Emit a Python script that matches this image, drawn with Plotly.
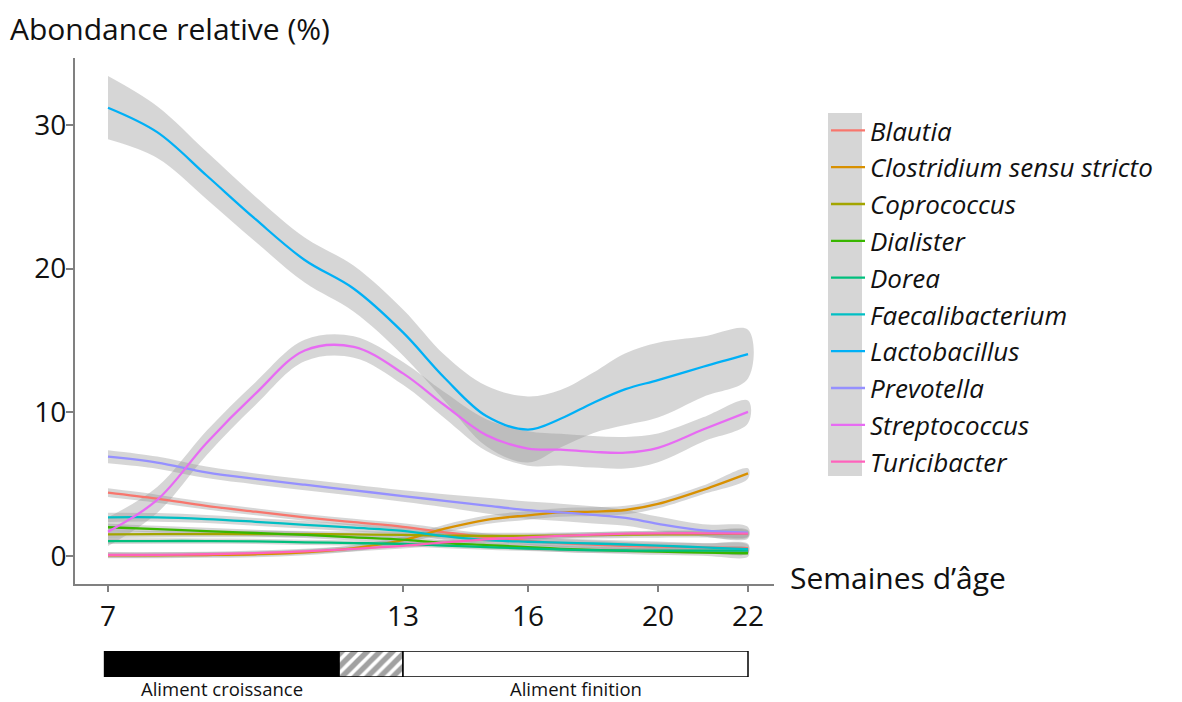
import numpy as np
import plotly.graph_objects as go

# ---------------- data ----------------
WEEKS = [7, 8, 9, 10, 11, 12, 13, 14, 15, 16, 17, 18, 19, 20, 21, 22]
TICK_WEEKS = [7, 13, 16, 20, 22]
TICK_LABELS = ["7", "13", "16", "20", "22"]

GENERA = ["Blautia", "Clostridium sensu stricto", "Coprococcus", "Dialister", "Dorea",
          "Faecalibacterium", "Lactobacillus", "Prevotella", "Streptococcus", "Turicibacter"]

BLAUTIA = [4.41, 3.99, 3.49, 3.08, 2.69, 2.35, 2.03, 1.65, 1.3, 1.05, 0.9, 0.8, 0.7, 0.65, 0.6, 0.55]
CLOSTRIDIUM = [0.05, 0.05, 0.07, 0.12, 0.25, 0.55, 1.1, 1.9, 2.52, 2.83, 3.03, 3.09, 3.2, 3.62, 4.6, 5.75]
COPROCOCCUS = [1.5, 1.52, 1.53, 1.53, 1.52, 1.5, 1.47, 1.42, 1.4, 1.4, 1.42, 1.45, 1.48, 1.5, 1.52, 1.55]
DIALISTER = [2.0, 1.87, 1.73, 1.6, 1.47, 1.3, 1.14, 0.9, 0.76, 0.62, 0.5, 0.42, 0.36, 0.3, 0.24, 0.19]
DOREA = [1.04, 1.04, 1.04, 1.02, 0.95, 0.9, 0.84, 0.72, 0.62, 0.52, 0.45, 0.4, 0.38, 0.37, 0.37, 0.37]
FAECALIBACTERIUM = [2.69, 2.69, 2.57, 2.38, 2.17, 1.97, 1.75, 1.38, 1.1, 0.99, 0.93, 0.87, 0.8, 0.72, 0.6, 0.47]
LACTOBACILLUS = [31.2, 29.5, 26.5, 23.44, 20.6, 18.6, 15.56, 12.39, 9.74, 8.8, 9.55, 10.65, 11.61, 12.24, 13.17, 14.05]
PREVOTELLA = [6.91, 6.5, 5.82, 5.36, 4.96, 4.57, 4.17, 3.84, 3.51, 3.19, 3.04, 2.86, 2.65, 2.24, 1.78, 1.62]
STREPTOCOCCUS = [1.69, 3.9, 7.85, 11.3, 14.3, 14.55, 12.71, 10.49, 8.41, 7.48, 7.4, 7.25, 7.19, 7.53, 8.8, 10.03]
TURICIBACTER = [0.07, 0.08, 0.12, 0.2, 0.32, 0.5, 0.7, 0.95, 1.15, 1.3, 1.4, 1.48, 1.55, 1.58, 1.58, 1.56]

# half-widths of the confidence ribbons
BLAUTIA_CI = [0.3, 0.28, 0.26, 0.25, 0.24, 0.24, 0.24, 0.25, 0.26, 0.27, 0.28, 0.28, 0.28, 0.28, 0.28, 0.3]
CLOSTRIDIUM_CI = [0.2, 0.2, 0.2, 0.2, 0.2, 0.22, 0.25, 0.28, 0.3, 0.3, 0.3, 0.3, 0.3, 0.3, 0.3, 0.35]
COPROCOCCUS_CI = [0.25, 0.24, 0.23, 0.22, 0.22, 0.22, 0.22, 0.22, 0.22, 0.22, 0.22, 0.22, 0.22, 0.23, 0.24, 0.25]
DIALISTER_CI = [0.25, 0.24, 0.23, 0.22, 0.22, 0.22, 0.22, 0.22, 0.22, 0.22, 0.22, 0.22, 0.22, 0.22, 0.23, 0.24]
DOREA_CI = [0.2, 0.19, 0.18, 0.18, 0.18, 0.18, 0.18, 0.18, 0.18, 0.18, 0.18, 0.18, 0.18, 0.18, 0.19, 0.2]
FAECALIBACTERIUM_CI = [0.32, 0.3, 0.28, 0.27, 0.26, 0.26, 0.26, 0.26, 0.27, 0.28, 0.28, 0.28, 0.28, 0.28, 0.29, 0.3]
LACTOBACILLUS_CI = [2.2, 1.8, 1.65, 1.57, 1.57, 1.6, 1.6, 1.6, 2.1, 2.3, 2.0, 2.1, 2.5, 2.6, 2.1, 1.7]
PREVOTELLA_CI = [0.45, 0.42, 0.4, 0.38, 0.38, 0.38, 0.4, 0.45, 0.55, 0.6, 0.6, 0.6, 0.55, 0.5, 0.42, 0.4]
STREPTOCOCCUS_CI = [1.0, 0.9, 0.85, 0.8, 0.75, 0.75, 0.8, 0.9, 1.1, 1.2, 1.1, 1.1, 1.1, 1.0, 0.85, 0.8]
TURICIBACTER_CI = [0.2, 0.19, 0.18, 0.18, 0.18, 0.18, 0.18, 0.18, 0.18, 0.18, 0.18, 0.18, 0.18, 0.18, 0.19, 0.2]

PHASE_LABELS = ["Aliment croissance", "", "Aliment finition"]
PHASE_START = [6.93, 11.7, 13]
PHASE_END = [11.7, 13, 22]

# ---------------- styles ----------------
COLORS = ["#F8766D", "#D89000", "#A3A500", "#39B600", "#00BF7D",
          "#00BFC4", "#00B0F6", "#9590FF", "#E76BF3", "#FF62BC"]
VALUES = [BLAUTIA, CLOSTRIDIUM, COPROCOCCUS, DIALISTER, DOREA,
          FAECALIBACTERIUM, LACTOBACILLUS, PREVOTELLA, STREPTOCOCCUS, TURICIBACTER]
CIS = [BLAUTIA_CI, CLOSTRIDIUM_CI, COPROCOCCUS_CI, DIALISTER_CI, DOREA_CI,
       FAECALIBACTERIUM_CI, LACTOBACILLUS_CI, PREVOTELLA_CI, STREPTOCOCCUS_CI, TURICIBACTER_CI]

# non-linear time scale used by the original axis (tick anchors along the axis)
SCALE_ANCHORS = [0, 295, 420, 550, 640]
LEFT_SLOPE = 49.2  # axis units per week before the first tick


def scale(w):
    w = np.atleast_1d(np.asarray(w, dtype=float))
    inside = np.interp(w, TICK_WEEKS, SCALE_ANCHORS)
    before = SCALE_ANCHORS[0] - (TICK_WEEKS[0] - w) * LEFT_SLOPE
    return np.where(w < TICK_WEEKS[0], before, inside)


FONT = "'Open Sans', sans-serif"
TXT = "#111111"
AXIS_COL = "#808080"
BAND = "rgba(153,153,153,0.4)"

# pixel frame helpers (figure 1182 x 702)
W, H = 1182, 702
L, R, T, B = 75, 774, 58, 680


def px(xp):
    return (xp - L) / (R - L)


def py(yp):
    return (B - yp) / (B - T)


fig = go.Figure()
xs = scale(WEEKS)

for name, vals, ci in zip(GENERA, VALUES, CIS):
    v = np.array(vals)
    c = np.array(ci)
    up = v + c
    lo = v - c
    fig.add_trace(go.Scatter(
        x=np.concatenate([xs, xs[::-1]]), y=np.concatenate([up, lo[::-1]]),
        fill="toself", fillcolor=BAND, line=dict(width=0, shape="spline"),
        mode="lines", showlegend=False, hoverinfo="skip"))

for name, vals, col in zip(GENERA, VALUES, COLORS):
    fig.add_trace(go.Scatter(
        x=xs, y=vals, mode="lines", name=name, legendgroup=name,
        line=dict(color=col, width=2.3, shape="spline")))

# feeding phases bar
p0 = scale(PHASE_START)
p1 = scale(PHASE_END)
fig.add_trace(go.Bar(
    x=p1 - p0, base=p0, y=[0, 0, 0], orientation="h", width=1,
    xaxis="x2", yaxis="y2", showlegend=False, hoverinfo="skip",
    marker=dict(color=["black", "white", "white"],
                line=dict(color="black", width=1.5),
                pattern=dict(shape=["", "/", ""], fgcolor="black", bgcolor="white",
                             size=9, solidity=0.6))))

annotations = []
for lab, a, b in zip(PHASE_LABELS, p0, p1):
    if lab:
        annotations.append(dict(text=lab, x=(a + b) / 2, xref="x", y=py(688), yref="paper",
                                showarrow=False, xanchor="center", yanchor="middle",
                                font=dict(family=FONT, size=18.5, color=TXT)))

annotations.append(dict(text="Abondance relative (%)", x=px(8), xref="paper", y=py(28),
                        yref="paper", showarrow=False, xanchor="left", yanchor="middle",
                        font=dict(family=FONT, size=30, color=TXT)))
annotations.append(dict(text="Semaines d’âge", x=px(788), xref="paper", y=py(577),
                        yref="paper", showarrow=False, xanchor="left", yanchor="middle",
                        font=dict(family=FONT, size=30, color=TXT)))

ymin, ymax = -1.95, 34.66
fig.update_layout(
    width=W, height=H, autosize=False,
    margin=dict(l=L, r=W - R, t=T, b=H - B),
    paper_bgcolor="white", plot_bgcolor="white",
    font=dict(family=FONT, color=TXT),
    barmode="overlay",
    xaxis=dict(range=[-33, 666], tickvals=scale(TICK_WEEKS), ticktext=TICK_LABELS,
               showgrid=False, zeroline=False, showline=True, linecolor=AXIS_COL, linewidth=2,
               ticks="outside", ticklen=6, tickwidth=1.5, tickcolor=AXIS_COL,
               tickfont=dict(family=FONT, size=28, color=TXT), anchor="y"),
    yaxis=dict(range=[ymin, ymax], domain=[py(584), 1], tickvals=[0, 10, 20, 30],
               showgrid=False, zeroline=False, showline=True, linecolor=AXIS_COL, linewidth=2,
               ticks="outside", ticklen=7, tickwidth=1.5, tickcolor=AXIS_COL,
               ticklabelstandoff=-6,
               tickfont=dict(family=FONT, size=28, color=TXT), anchor="x"),
    xaxis2=dict(matches="x", anchor="y2", visible=False),
    yaxis2=dict(domain=[py(677), py(651)], range=[-0.5, 0.5], visible=False, anchor="x2"),
    legend=dict(x=px(826), y=py(107), xanchor="left", yanchor="top",
                font=dict(family=FONT, size=26, color=TXT, style="italic"),
                bgcolor="rgba(0,0,0,0)", tracegroupgap=6, itemwidth=34,
                traceorder="normal"),
    shapes=[dict(type="rect", xref="paper", yref="paper", x0=px(828), x1=px(862),
                 y0=py(476), y1=py(113), fillcolor="#d6d6d6", line=dict(width=0),
                 layer="above")],
    annotations=annotations,
)

fig.write_html("out.html", config={"displayModeBar": False},
               post_script="document.body.style.margin='0';document.body.style.overflow='hidden';")
